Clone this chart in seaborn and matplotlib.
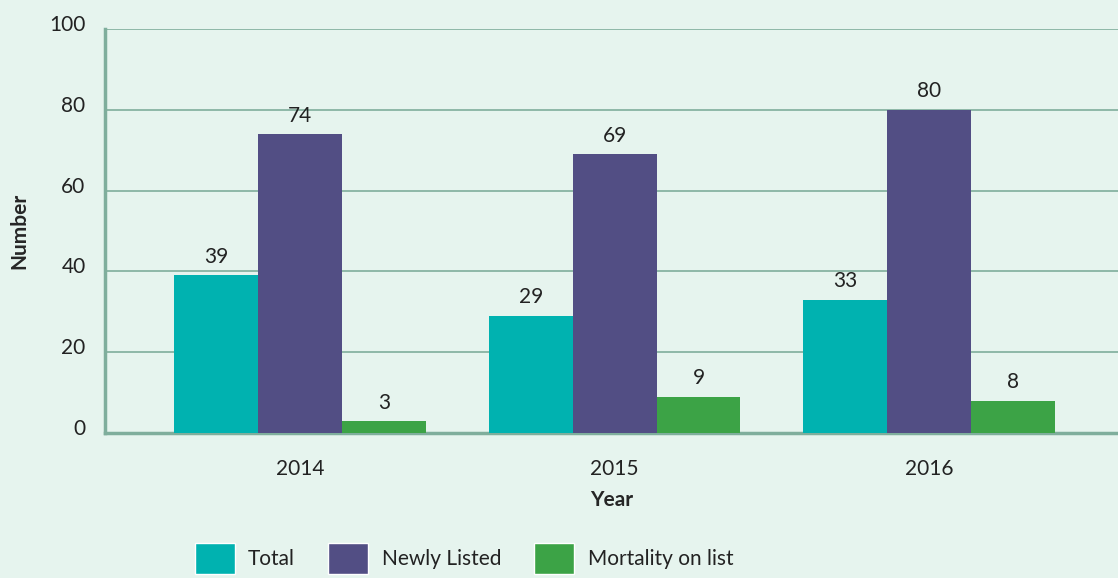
import matplotlib
matplotlib.use('Agg')
import matplotlib.pyplot as plt
import matplotlib.transforms as mtransforms
import pandas as pd
import seaborn as sns

years = ['2014', '2015', '2016']
series = ['Total', 'Newly Listed', 'Mortality on list']
total = [39, 29, 33]
newly_listed = [74, 69, 80]
mortality = [3, 9, 8]
colors = ['#00b2b0', '#524e84', '#3ca346']

bg = '#e6f4ee'
grid_col = '#7fae9c'

rows = []
for name, vals in zip(series, [total, newly_listed, mortality]):
    for y, v in zip(years, vals):
        rows.append((y, name, v))
df = pd.DataFrame(rows, columns=['Year', 'series', 'Number'])

sns.set_style('white')
plt.rcParams['font.family'] = ['Lato', 'DejaVu Sans']

fig = plt.figure(figsize=(11.18, 5.78), dpi=100, facecolor=bg)
ax = fig.add_axes([0.0939, 0.2509, 0.9061, 0.6989])
ax.set_facecolor(bg)

sns.barplot(data=df, x='Year', y='Number', hue='series', hue_order=series,
            palette=colors, width=0.8, saturation=1, ax=ax, legend=False,
            linewidth=0, edgecolor='none', zorder=3)

for c in ax.containers:
    ax.bar_label(c, padding=6, fontsize=15, color='#222222')

ax.set_xlim(-0.62, 2.6)
ax.set_ylim(0, 100)
ax.set_yticks([0, 20, 40, 60, 80, 100])
ax.yaxis.grid(True, color=grid_col, linewidth=1.2, zorder=0)
ax.set_axisbelow(True)
for s in ['top', 'right']:
    ax.spines[s].set_visible(False)
for s in ['left', 'bottom']:
    ax.spines[s].set_color(grid_col)
    ax.spines[s].set_linewidth(2.5)
ax.tick_params(axis='both', length=0, labelsize=15, colors='#222222')
ax.tick_params(axis='y', pad=14)
ax.tick_params(axis='x', pad=19)
offset = mtransforms.ScaledTranslation(0, 6 / 100, fig.dpi_scale_trans)
for lab in ax.get_yticklabels():
    lab.set_transform(lab.get_transform() + offset)

ax.set_xlabel('Year', fontsize=15, fontweight='bold', labelpad=8)
ax.set_ylabel('Number', fontsize=15, fontweight='bold', labelpad=14)

handles = [plt.Rectangle((0, 0), 1, 1, facecolor=c) for c in colors]
leg = fig.legend(handles, series, loc='center left', bbox_to_anchor=(0.1744, 0.034),
                 ncol=3, frameon=False, fontsize=15, handlelength=1.92,
                 handleheight=1.92, handletextpad=0.63, columnspacing=1.6,
                 borderpad=0, borderaxespad=0)
for t in leg.get_texts():
    t.set_color('#222222')

fig.savefig('out.png', dpi=100, facecolor=bg)
